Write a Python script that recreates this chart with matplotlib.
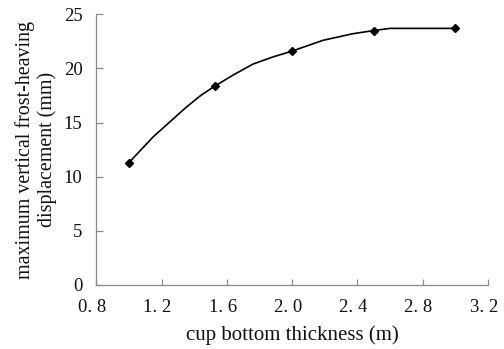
import matplotlib
matplotlib.use("Agg")
import matplotlib.pyplot as plt
import matplotlib.transforms as mtransforms

# Measured frost-heave points
thickness = [1.0, 1.53, 2.0, 2.5, 3.0]
heave = [11.3, 18.4, 21.6, 23.5, 23.7]

# Fitted curve through the measurements
curve_x = [1.0, 1.15, 1.35, 1.44, 1.53, 1.64, 1.76, 1.88, 2.0, 2.19, 2.37, 2.5, 2.6, 3.0]
curve_y = [11.3, 13.7, 16.4, 17.5, 18.4, 19.4, 20.4, 21.05, 21.6, 22.6, 23.2, 23.5, 23.7, 23.7]

x_ticks = [0.8, 1.2, 1.6, 2.0, 2.4, 2.8, 3.2]
x_tick_labels = ["0. 8", "1. 2", "1. 6", "2. 0", "2. 4", "2. 8", "3. 2"]
y_ticks = [0, 5, 10, 15, 20, 25]

plt.rcParams["font.family"] = ["Liberation Serif", "DejaVu Serif"]

fig = plt.figure(figsize=(5.04, 3.49), dpi=100)
ax = fig.add_axes([0.191, 0.1834, 0.777, 0.7756])

ax.plot(curve_x, curve_y, color="black", linewidth=1.2, zorder=2)
ax.plot(thickness, heave, linestyle="none", marker="D", markersize=3.8,
        color="black", zorder=3)

ax.set_xlim(0.8, 3.2)
ax.set_ylim(0, 25)
ax.set_xticks(x_ticks)
ax.set_xticklabels(x_tick_labels)
ax.set_yticks(y_ticks)

spine_color = "#8a8a8a"
for side in ("top", "right"):
    ax.spines[side].set_visible(False)
for side in ("left", "bottom"):
    ax.spines[side].set_color(spine_color)
    ax.spines[side].set_linewidth(0.9)

ax.tick_params(axis="x", direction="in", length=4, width=0.9, color=spine_color,
               labelsize=13.5, pad=10, labelcolor="#111111")
ax.tick_params(axis="y", direction="in", length=5, width=0.9, color=spine_color,
               labelsize=13.5, pad=10, labelcolor="#111111")

shift = mtransforms.ScaledTranslation(-4 / 100, 0, fig.dpi_scale_trans)
for lbl in ax.get_xticklabels():
    lbl.set_transform(lbl.get_transform() + shift)

ax.set_xlabel("cup bottom thickness (m)", fontsize=15, color="#111111", labelpad=7)
ax.set_ylabel("maximum vertical frost-heaving\ndisplacement (mm)", fontsize=14.4,
              color="#111111", labelpad=5, linespacing=1.15)

fig.savefig("out.png", dpi=100)
